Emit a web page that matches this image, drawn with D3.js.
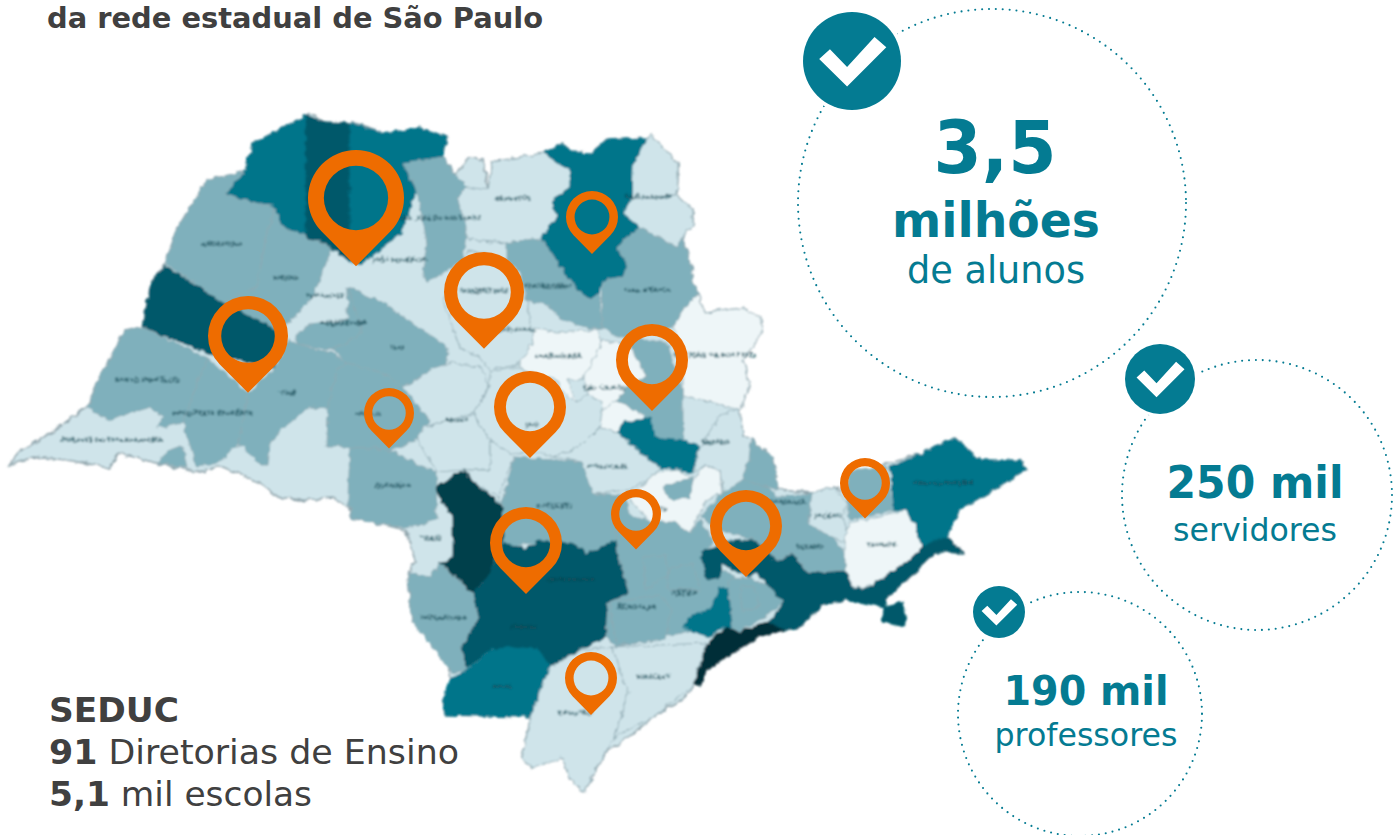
<!DOCTYPE html>
<html lang="pt"><head><meta charset="utf-8">
<style>html,body{margin:0;padding:0;background:#fff;overflow:hidden}svg{display:block}text{font-family:"DejaVu Sans",sans-serif}</style>
<script src="https://cdn.jsdelivr.net/npm/d3@7/dist/d3.min.js"></script></head><body>
<script>
// ---------- data ----------
const stateOutline=[[10,465],[20,450],[45,437],[87,407],[100,377],[125,330],[142,327],[152,280],[165,263],[178,227],[207,180],[243,172],[253,143],[293,123],[310,113],[325,122],[355,123],[385,133],[420,128],[448,137],[443,157],[455,175],[470,158],[483,160],[488,190],[492,162],[543,153],[563,143],[570,152],[592,153],[607,140],[647,138],[652,135],[663,148],[678,163],[678,177],[677,195],[693,210],[693,225],[682,237],[690,260],[693,283],[702,303],[705,313],[743,308],[762,320],[762,333],[743,360],[750,387],[740,410],[743,437],[751,440],[773,457],[778,490],[812,493],[833,487],[841,490],[886,463],[922,453],[955,437],[980,460],[1020,460],[1027,470],[988,493],[959,510],[947,537],[963,553],[935,553],[886,600],[845,600],[822,605],[796,630],[784,630],[759,637],[727,657],[706,670],[702,685],[694,685],[686,697],[653,717],[629,737],[608,750],[592,777],[584,792],[569,777],[563,758],[553,758],[543,758],[531,768],[522,757],[531,717],[445,715],[443,700],[451,677],[441,643],[412,620],[408,575],[415,560],[405,530],[385,525],[352,518],[348,505],[333,498],[300,500],[277,497],[260,483],[223,467],[197,472],[157,463],[117,453],[110,468],[67,460],[33,457]];
const regionNames=["Jales","Votuporanga","Fernandópolis","Andradina","Birigui","Penápolis","Santo Anastácio","Presidente Prudente","Tupã","Lins","Cafelândia","Marília","Assis","Pontal","Catanduva","Barretos","São Joaquim Norte","São Joaquim Sul","Franca","São João","Sertãozinho","Jaboticabal","Mogi","Araras","Pirassununga","Campinas Leste","Sumaré","Botucatu","Avaré","Itapetininga","Taquarituba","Itapeva","Sorocaba","Osasco","Itapecerica","São Paulo","Mogi das Cruzes","Santos","Jacareí","Taubaté Oeste","Guaratinguetá","Caraguatatuba","Vale Histórico","Litoral Norte","Ilhabela","Bragança","Bauru","Lençóis","Barra Bonita","Jaú","Piracicaba","Taquaritinga","Atibaia","Registro","Miracatu","Itu","Capivari","Tietê","Salto","São Roque","Carapicuíba"];
const regionLevels=[3,4,3,2,2,2,4,2,2,2,2,2,2,2,2,1,1,1,3,2,2,0,0,0,0,2,3,2,5,4,2,3,2,4,3,2,4,6,2,1,2,0,3,4,4,2,1,1,1,1,1,1,1,1,1,0,2,2,2,2,2];
const regionRings=[
[[225,195],[243,172],[253,143],[293,123],[306,115],[306,238],[281,226],[275,208]],
[[306,115],[325,122],[350,123],[350,262],[332,248],[306,238]],
[[350,123],[385,133],[420,128],[448,137],[443,157],[420,163],[403,163],[417,190],[400,235],[360,265],[350,262]],
[[165,263],[178,227],[207,180],[243,172],[225,195],[275,208],[265,243],[257,287],[223,303]],
[[275,208],[281,226],[332,248],[313,297],[290,322],[277,330],[223,303],[257,287],[265,243]],
[[297,345],[297,333],[310,325],[347,320],[348,287],[383,303],[363,333],[333,350]],
[[152,280],[165,265],[223,303],[277,330],[275,368],[213,355],[142,327]],
[[125,330],[142,327],[208,358],[197,383],[183,423],[157,428],[163,417],[150,407],[107,420],[88,407],[100,377]],
[[208,358],[248,393],[238,445],[218,463],[197,467],[183,423],[197,383]],
[[248,393],[238,445],[243,447],[260,465],[268,465],[270,443],[287,425],[310,407],[328,408],[337,370],[347,363],[333,353],[297,345],[288,340],[275,368]],
[[348,287],[383,303],[448,347],[447,363],[403,387],[383,373],[347,363],[333,350],[363,333]],
[[337,370],[347,363],[383,373],[403,387],[430,422],[417,440],[390,450],[350,447],[327,447],[328,408]],
[[350,447],[390,450],[415,463],[437,472],[436,518],[410,528],[385,525],[352,518],[348,498]],
[[157,462],[170,450],[183,445],[187,468]],
[[403,163],[443,157],[455,175],[467,187],[457,197],[467,227],[463,260],[443,273],[427,283],[423,270],[427,243],[417,190]],
[[492,162],[543,153],[557,163],[570,170],[570,187],[553,200],[557,217],[540,238],[507,243],[467,240],[467,227],[457,197],[467,187],[488,190]],
[[647,138],[652,135],[663,148],[678,163],[678,177],[677,195],[632,197],[633,163]],
[[632,197],[677,195],[693,210],[693,225],[682,237],[677,247],[640,227],[623,213]],
[[543,153],[563,143],[570,152],[592,153],[607,140],[647,138],[633,163],[632,197],[623,213],[640,227],[617,247],[627,263],[623,277],[603,280],[600,293],[590,300],[577,290],[560,267],[540,238],[557,217],[553,200],[570,187],[570,170],[557,163]],
[[617,247],[640,227],[677,247],[682,237],[690,260],[693,283],[698,293],[683,310],[673,327],[630,337],[617,337],[602,327],[603,280],[623,277],[627,263]],
[[507,243],[540,238],[560,267],[577,290],[590,300],[600,293],[602,327],[597,330],[563,320],[547,305],[527,300],[520,273],[507,260]],
[[533,328],[557,333],[597,330],[603,350],[583,380],[567,380],[577,403],[567,405],[557,380],[520,370],[520,360]],
[[705,313],[743,308],[762,320],[762,333],[743,360],[750,387],[740,410],[683,395],[683,350],[673,327],[683,310],[698,293]],
[[603,340],[633,345],[647,377],[627,387],[617,400],[600,425],[583,380],[593,360]],
[[600,413],[617,400],[650,417],[623,423],[617,433],[600,433]],
[[630,337],[667,343],[683,387],[683,440],[653,437],[647,417],[617,400],[627,387],[647,377],[633,353]],
[[617,433],[623,423],[650,417],[653,437],[685,440],[700,447],[693,473],[660,467],[640,453]],
[[514,457],[582,462],[592,493],[625,495],[630,515],[650,522],[640,550],[618,543],[588,553],[571,543],[539,543],[502,547],[498,497],[502,507]],
[[437,487],[463,470],[480,487],[502,507],[504,537],[488,577],[473,593],[439,563],[453,558],[453,517],[439,497]],
[[473,593],[488,577],[504,543],[525,549],[539,541],[571,543],[588,553],[618,540],[631,593],[608,602],[606,637],[580,650],[551,667],[539,650],[514,647],[490,650],[465,670],[461,647],[478,617]],
[[408,573],[431,577],[439,563],[473,593],[478,617],[461,647],[467,670],[453,673],[412,620]],
[[449,680],[467,670],[490,650],[514,647],[539,650],[551,667],[539,693],[531,717],[445,715],[443,700]],
[[618,553],[629,593],[608,603],[606,637],[616,647],[686,632],[700,625],[735,632],[735,575],[720,570],[702,553],[714,543],[700,520],[690,533],[673,522],[650,522],[640,550],[616,530]],
[[700,552],[730,541],[757,539],[778,552],[760,570],[750,577],[733,570],[723,563],[720,577],[707,580]],
[[720,587],[728,588],[730,610],[733,627],[723,627],[710,637],[697,633],[683,627],[693,615],[710,610],[717,593]],
[[728,580],[747,577],[767,585],[785,602],[760,620],[737,632],[732,627],[730,607]],
[[755,572],[780,553],[794,553],[808,573],[845,570],[853,587],[886,583],[886,607],[845,600],[822,605],[796,630],[784,630],[767,623],[785,602],[767,585]],
[[710,640],[727,627],[737,632],[767,623],[784,630],[759,637],[727,657],[706,670],[702,685],[694,685],[700,657]],
[[735,480],[743,470],[780,497],[812,493],[808,523],[833,537],[845,553],[845,570],[808,573],[794,553],[776,560],[755,540],[720,530],[700,517],[722,493]],
[[812,493],[833,487],[847,503],[843,517],[849,537],[845,543],[824,533],[808,523]],
[[849,470],[886,467],[894,510],[849,520],[847,503]],
[[849,523],[906,510],[916,527],[922,547],[906,563],[869,587],[853,587],[845,570],[845,543]],
[[890,467],[922,453],[955,437],[980,460],[1020,460],[1027,470],[988,493],[959,510],[947,537],[922,547],[916,527],[906,510],[894,510]],
[[906,563],[922,547],[947,537],[963,553],[935,553],[886,600],[886,583],[869,587]],
[[884,607],[904,600],[906,627],[882,622]],
[[751,440],[773,457],[778,490],[743,480],[749,460]],
[[403,387],[417,380],[433,368],[453,363],[480,367],[490,385],[473,413],[423,427],[430,422]],
[[423,427],[473,415],[490,440],[490,470],[463,470],[437,472],[417,440]],
[[490,440],[510,453],[514,457],[498,497],[480,487],[463,470],[490,470]],
[[473,413],[490,387],[490,372],[517,367],[555,385],[577,403],[587,395],[603,403],[600,427],[580,447],[553,457],[540,452],[510,453],[490,440]],
[[553,457],[580,447],[600,427],[617,433],[640,453],[660,467],[657,472],[647,480],[630,490],[592,493],[582,462]],
[[460,348],[480,357],[490,370],[517,365],[533,343],[527,300],[507,260],[470,250],[443,300]],
[[700,447],[720,415],[740,410],[743,437],[751,440],[749,460],[743,480],[722,493],[720,470],[705,465],[693,473]],
[[551,667],[580,650],[612,647],[628,693],[614,737],[592,777],[584,792],[569,777],[563,758],[531,768],[522,757],[531,717],[539,693]],
[[612,647],[706,643],[694,685],[653,717],[614,737],[628,693]],
[[647,480],[657,472],[680,470],[693,480],[705,465],[720,470],[722,493],[707,500],[700,513],[690,533],[673,522],[650,522],[630,500]],
[[663,487],[693,477],[690,497],[672,500]],
[[643,557],[665,555],[668,575],[645,590]],
[[668,570],[693,563],[700,590],[668,590]],
[[610,603],[660,595],[672,610],[665,640],[616,645]],
[[740,585],[755,588],[760,606],[742,612]]
];
const levelColors=["#eef6f8","#cfe4ea","#7fb0bc","#05758a","#04596a","#023f4c","#012d38"];
const labelNames=["ANDRADINA","BIRIGUI","SANTO ANASTÁCIO","PRESIDENTE PRUDENTE","TUPÃ","MIRANTE DO PARANAPANEMA","LINS","ADAMANTINA","PENÁPOLIS","JOSÉ BONIFÁCIO","SÃO JOSÉ DO RIO PRETO","OURINHOS","MARÍLIA","BAURU","JAÚ","BARRETOS","TAQUARITINGA","SERTÃOZINHO","SÃO JOAQUIM","CASA BRANCA","JABOTICABAL","ARARAQUARA","SÃO CARLOS","SÃO JOÃO DA BOA VISTA","AMPARO","PIRACICABA","BOTUCATU","PIRAJU","TAQUARITUBA","ITAPETININGA","ITAPEVA","APIAÍ","REGISTRO","MIRACATU","ITATIBA","SOROCABA","CARAGUATATUBA","TAUBATÉ","JACAREÍ","SUZANO","BRAGANÇA","ITU"];
const labelX=[222,286,147,213,287,112,397,343,325,400,440,393,368,457,532,513,484,548,648,647,513,558,605,715,715,608,555,430,443,571,524,502,575,653,684,637,943,882,829,810,788,661];
const labelY=[246,280,382,415,395,442,349,325,298,262,220,488,416,422,427,201,293,288,199,292,332,358,390,357,444,469,508,540,620,582,629,689,715,679,595,609,485,547,518,549,504,511];
const pinX=[356,248,389,484,592,652,530,526,636,746,865,591];
const pinY=[198,336,413,292,217,360,407,543,514,526,483,678];
const pinSize=[48,40,25,40,26,36,36,36,25,36,25,26];
const statCircleX=[992,1257,1080];
const statCircleY=[203,495,714];
const statCircleR=[194,135,122];
const badgeX=[852,1160,999];
const badgeY=[61,379,612];
const badgeR=[49,35,26];
const statBig=["3,5","250 mil","190 mil"];
const statMiddle=["milhões"];
const statSmall=["de alunos","servidores","professores"];
const titleText="da rede estadual de São Paulo";
const seducLines=[[["SEDUC",true]],[["91",true],[" Diretorias de Ensino",false]],[["5,1",true],[" mil escolas",false]]];
const teal="#047b92",ink="#404040",orange="#ee6c00";

// ---------- scales / drawing ----------
const W=1399,H=835;
const svg=d3.select("body").append("svg").attr("width",W).attr("height",H).attr("viewBox",[0,0,W,H]);
const defs=svg.append("defs");
const f=defs.append("filter").attr("id","soft").attr("x","-2%").attr("y","-2%").attr("width","104%").attr("height","104%");
f.append("feTurbulence").attr("type","fractalNoise").attr("baseFrequency",0.14).attr("numOctaves",2).attr("seed",4).attr("result","n");
f.append("feDisplacementMap").attr("in","SourceGraphic").attr("in2","n").attr("scale",6).attr("xChannelSelector","R").attr("yChannelSelector","G").attr("result","d");
f.append("feGaussianBlur").attr("in","d").attr("stdDeviation",0.9);
const color=d3.scaleOrdinal().domain(d3.range(levelColors.length)).range(levelColors);
const path=d3.geoPath(d3.geoIdentity());
const poly=r=>({type:"Polygon",coordinates:[[...r,r[0]]]});

svg.append("text").attr("x",47).attr("y",28).attr("font-size",28).attr("font-weight",700).attr("fill",ink)
  .attr("textLength",496).attr("lengthAdjust","spacingAndGlyphs").text(titleText);

const map=svg.append("g").attr("filter","url(#soft)");
map.append("path").datum(poly(stateOutline)).attr("d",path).attr("fill",levelColors[1]).attr("stroke","#8ea3aa").attr("stroke-width",1.6);
map.selectAll("path.r").data(regionRings).join("path").attr("class","r")
  .attr("d",r=>path(poly(r))).attr("fill",(r,i)=>color(regionLevels[i]))
  .attr("stroke",(r,i)=>regionLevels[i]>=3?color(regionLevels[i]):"#8ea9b2").attr("stroke-width",0.9).attr("stroke-linejoin","round")
  .append("title").text((r,i)=>regionNames[i]);
map.selectAll("text").data(labelNames).join("text").attr("x",(d,i)=>labelX[i]).attr("y",(d,i)=>labelY[i])
  .attr("text-anchor","middle").attr("font-size",6).attr("font-weight",700).attr("fill","#0d4450").attr("opacity",.85).text(d=>d);

// pins
function pinPath(R){
  const p=d3.path(),tip=R*1.42,a=Math.acos(R/tip);
  const s=Math.PI/2+a,e=Math.PI/2-a;
  p.moveTo(0,tip);
  p.lineTo(R*Math.cos(s),R*Math.sin(s));
  p.arc(0,0,R,s,e,false);
  p.closePath();
  const r=R*0.67;
  p.moveTo(r,0);p.arc(0,0,r,0,2*Math.PI,true);p.closePath();
  return p.toString();
}
svg.append("g").selectAll("path").data(pinSize).join("path")
  .attr("transform",(d,i)=>`translate(${pinX[i]},${pinY[i]})`)
  .attr("d",pinPath).attr("fill",orange).attr("fill-rule","evenodd");

// stat circles
svg.append("g").selectAll("circle").data(statCircleR).join("circle")
  .attr("cx",(d,i)=>statCircleX[i]).attr("cy",(d,i)=>statCircleY[i]).attr("r",d=>d)
  .attr("fill","none").attr("stroke",teal).attr("stroke-width",2.1).attr("stroke-linecap","round").attr("stroke-dasharray","0 6.9");
// badges
const checkShape=[[-.67,-.04],[-.45,-.24],[-.1,.12],[.46,-.49],[.7,-.28],[-.1,.52]];
const b=svg.append("g").selectAll("g").data(badgeR).join("g").attr("transform",(d,i)=>`translate(${badgeX[i]},${badgeY[i]})`);
b.append("circle").attr("r",d=>d*1.08).attr("fill","#fff");
b.append("circle").attr("r",d=>d).attr("fill",teal);
b.append("polygon").attr("fill","#fff").attr("points",d=>checkShape.map(p=>[p[0]*d,p[1]*d].join(",")).join(" "));

// stat text
const big=[{s:statBig[0],x:995,y:173,f:73,w:700,l:123},{s:statMiddle[0],x:996,y:237,f:48,w:700,l:208},{s:statSmall[0],x:996,y:283,f:36.5,w:400,l:178},
 {s:statBig[1],x:1255,y:498,f:44,w:700,l:177},{s:statSmall[1],x:1255,y:541,f:31.5,w:400,l:164},
 {s:statBig[2],x:1086,y:705,f:41,w:700,l:165},{s:statSmall[2],x:1086,y:746,f:31.4,w:400,l:183}];
svg.append("g").selectAll("text").data(big).join("text").attr("x",d=>d.x).attr("y",d=>d.y).attr("text-anchor","middle")
  .attr("font-size",d=>d.f).attr("font-weight",d=>d.w).attr("fill",teal).attr("textLength",d=>d.l).attr("lengthAdjust","spacingAndGlyphs").text(d=>d.s);

// SEDUC
const sed=svg.append("g");
const sedY=[722,764,806],sedLen=[130,410,263];
seducLines.forEach((ln,i)=>{
  const t=sed.append("text").attr("x",49).attr("y",sedY[i]).attr("font-size",33).attr("fill",ink).attr("textLength",sedLen[i]).attr("lengthAdjust","spacingAndGlyphs").attr("xml:space","preserve");
  ln.forEach(([s,bold])=>t.append("tspan").attr("font-weight",bold?700:400).text(s));
});
</script></body></html>
